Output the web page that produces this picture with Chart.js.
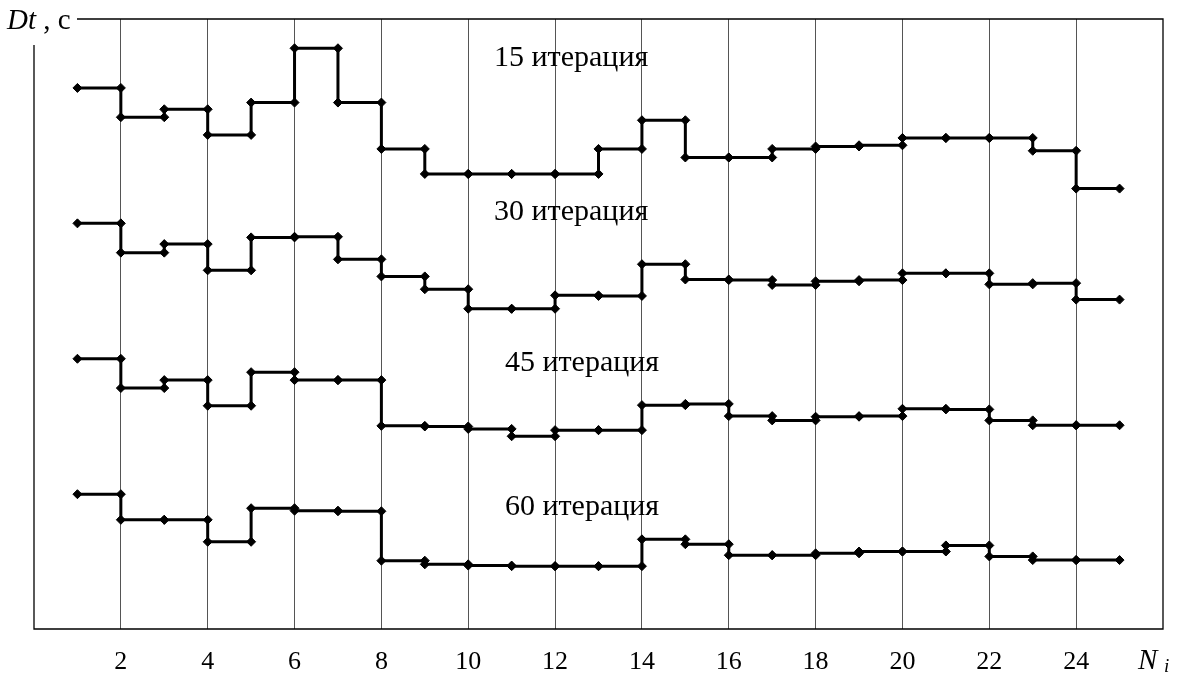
<!DOCTYPE html>
<html>
<head>
<meta charset="utf-8">
<script src="https://cdn.jsdelivr.net/npm/chart.js@4/dist/chart.umd.min.js"></script>
<style>
html, body { margin: 0; padding: 0; background: #fff; }
</style>
</head>
<body>
<canvas id="myChart" width="1180" height="681"></canvas>
<script>
// N_i interval starts (each value is held from N to N+1)
var steps = [1, 2, 3, 4, 5, 6, 7, 8, 9, 10, 11, 12, 13, 14, 15, 16, 17, 18, 19, 20, 21, 22, 23, 24];
var xTicks = [2, 4, 6, 8, 10, 12, 14, 16, 18, 20, 22, 24];

// Dt per interval (relative units, y axis has no scale)
var iter15 = [88.7, 83.9, 85.2, 81.0, 86.3, 95.2, 86.3, 78.7, 74.6, 74.6, 74.6, 74.6, 78.7, 83.4, 77.3, 77.3, 78.7, 79.1, 79.3, 80.5, 80.5, 80.5, 78.4, 72.2];
var iter30 = [66.5, 61.7, 63.1, 58.8, 64.2, 64.3, 60.6, 57.8, 55.7, 52.5, 52.5, 54.7, 54.6, 59.8, 57.3, 57.2, 56.4, 57.0, 57.2, 58.3, 58.3, 56.5, 56.7, 54.0];
var iter45 = [44.3, 39.5, 40.8, 36.6, 42.1, 40.8, 40.8, 33.3, 33.2, 32.8, 31.6, 32.6, 32.6, 36.7, 36.9, 34.9, 34.2, 34.8, 34.9, 36.1, 36.0, 34.2, 33.4, 33.4];
var iter60 = [22.1, 17.9, 17.9, 14.3, 19.8, 19.4, 19.3, 11.2, 10.6, 10.4, 10.3, 10.3, 10.3, 14.7, 13.9, 12.1, 12.1, 12.4, 12.7, 12.7, 13.7, 11.9, 11.3, 11.3];
var seriesNames = ['15 итерация', '30 итерация', '45 итерация', '60 итерация'];

var serif = '"Liberation Serif", "DejaVu Serif", serif';

// each interval becomes a horizontal segment with a marker at both ends
function stepPoints(vals) {
    var pts = [];
    for (var i = 0; i < steps.length; i++) {
        pts.push({x: steps[i], y: vals[i]});
        pts.push({x: steps[i] + 1, y: vals[i]});
    }
    return pts;
}

function makeSet(name, vals) {
    return {
        label: name,
        data: stepPoints(vals),
        borderColor: '#000',
        backgroundColor: '#000',
        borderWidth: 3,
        pointStyle: 'rectRot',
        pointRadius: 4.5,
        pointBorderWidth: 1,
        pointBackgroundColor: '#000',
        pointBorderColor: '#000',
        tension: 0
    };
}

// frame, axis names and series captions
var decor = {
    id: 'decor',
    afterDraw: function(chart) {
        var c = chart.ctx, a = chart.chartArea;
        var xs = chart.scales.x, ys = chart.scales.y;
        c.save();
        c.strokeStyle = '#000';
        c.lineWidth = 1.3;
        c.beginPath();
        c.moveTo(a.left + 43, a.top); c.lineTo(a.right, a.top);
        c.lineTo(a.right, a.bottom); c.lineTo(a.left, a.bottom);
        c.lineTo(a.left, a.top + 26);
        c.stroke();

        c.fillStyle = '#000';
        c.textBaseline = 'alphabetic';
        c.textAlign = 'left';
        c.font = 'italic 29px ' + serif;
        c.fillText('Dt', 7, 29);
        var w = c.measureText('Dt').width;
        c.font = '29px ' + serif;
        c.fillText(' , c', 7 + w, 29);

        c.font = 'italic 29px ' + serif;
        c.fillText('N', 1138, 669);
        c.font = 'italic 19px ' + serif;
        c.fillText('i', 1164, 672);

        var pos = [[12.37, 93.6], [12.37, 68.3], [12.62, 43.6], [12.62, 20.0]];
        c.font = '30px ' + serif;
        c.textAlign = 'center';
        c.textBaseline = 'middle';
        for (var i = 0; i < seriesNames.length; i++) {
            c.fillText(seriesNames[i], xs.getPixelForValue(pos[i][0]), ys.getPixelForValue(pos[i][1]));
        }
        c.restore();
    }
};

var ctx = document.getElementById('myChart').getContext('2d');
var myChart = new Chart(ctx, {
    type: 'line',
    data: {
        datasets: [
            makeSet(seriesNames[0], iter15),
            makeSet(seriesNames[1], iter30),
            makeSet(seriesNames[2], iter45),
            makeSet(seriesNames[3], iter60)
        ]
    },
    options: {
        responsive: false,
        animation: false,
        events: [],
        layout: { padding: { left: 34, right: 17, top: 19, bottom: 0 } },
        plugins: { legend: { display: false }, tooltip: { enabled: false } },
        scales: {
            x: {
                type: 'linear',
                min: 0,
                max: 26,
                afterFit: function(scale) { scale.height = 52; },
                afterBuildTicks: function(scale) {
                    scale.ticks = xTicks.map(function(v) { return {value: v}; });
                },
                border: { display: false },
                grid: { color: '#555', lineWidth: 1, drawTicks: false },
                ticks: {
                    color: '#000',
                    padding: 18,
                    maxRotation: 0,
                    autoSkip: false,
                    font: { family: serif, size: 26 }
                }
            },
            y: {
                display: false,
                min: 0,
                max: 100
            }
        }
    },
    plugins: [decor]
});
</script>
</body>
</html>
